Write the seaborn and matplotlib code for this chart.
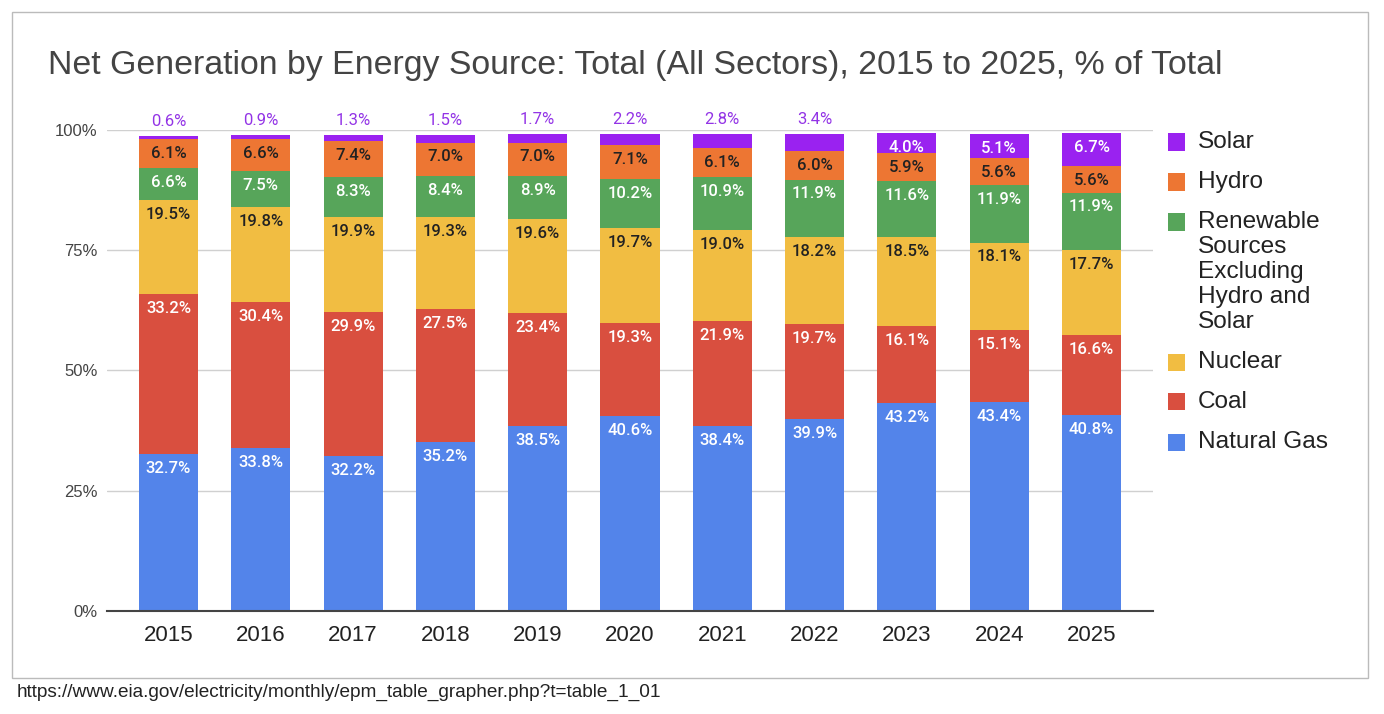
import matplotlib
matplotlib.use("Agg")
import matplotlib.pyplot as plt
from matplotlib.patches import Rectangle
import numpy as np
import pandas as pd
import seaborn as sns

years = ["2015", "2016", "2017", "2018", "2019", "2020", "2021", "2022", "2023", "2024", "2025"]
natural_gas = [32.7, 33.8, 32.2, 35.2, 38.5, 40.6, 38.4, 39.9, 43.2, 43.4, 40.8]
coal = [33.2, 30.4, 29.9, 27.5, 23.4, 19.3, 21.9, 19.7, 16.1, 15.1, 16.6]
nuclear = [19.5, 19.8, 19.9, 19.3, 19.6, 19.7, 19.0, 18.2, 18.5, 18.1, 17.7]
renewable = [6.6, 7.5, 8.3, 8.4, 8.9, 10.2, 10.9, 11.9, 11.6, 11.9, 11.9]
hydro = [6.1, 6.6, 7.4, 7.0, 7.0, 7.1, 6.1, 6.0, 5.9, 5.6, 5.6]
solar = [0.6, 0.9, 1.3, 1.5, 1.7, 2.2, 2.8, 3.4, 4.0, 5.1, 6.7]

# bottom-to-top stacking order
sources = ["Natural Gas", "Coal", "Nuclear",
           "Renewable\nSources\nExcluding\nHydro and\nSolar", "Hydro", "Solar"]
series = [natural_gas, coal, nuclear, renewable, hydro, solar]
colors = ["#5384ea", "#d94f3f", "#f1bd42", "#57a55a", "#ed7633", "#9a22f0"]
label_colors = ["white", "white", "#222222", "white", "#222222", "white"]

sns.set_style("white")
plt.rcParams["font.family"] = ["Liberation Sans", "DejaVu Sans"]

W, H = 1384, 714
fig = plt.figure(figsize=(W / 100, H / 100), dpi=100)
ax = fig.add_axes([107 / W, 1 - 611 / H, 1046 / W, 481 / H])

bottom = np.zeros(len(years))
for name, vals, col, lcol in zip(sources, series, colors, label_colors):
    vals = np.array(vals)
    df = pd.DataFrame({"Year": years, "Share": vals})
    sns.barplot(data=df, x="Year", y="Share", color=col, saturation=1,
                width=0.64, bottom=bottom, errorbar=None, linewidth=0, ax=ax)
    tops = bottom + vals
    for i, (v, t) in enumerate(zip(vals, tops)):
        if v >= 3.5:
            ax.annotate(f"{v:.1f}%", xy=(i, t), xytext=(0, -5),
                        textcoords="offset points", ha="center", va="top",
                        fontsize=12, fontweight="medium", color=lcol,
                        family=["Roboto", "DejaVu Sans"])
        else:
            ax.annotate(f"{v:.1f}%", xy=(i, t), xytext=(0, 5),
                        textcoords="offset points", ha="center", va="bottom",
                        fontsize=12, color="#9334e6", family=["Roboto", "DejaVu Sans"],
                        annotation_clip=False)
    bottom = tops

ax.set_xlim(-0.666, len(years) - 1 + 0.666)
ax.set_ylim(0, 100)
ax.set_yticks([0, 25, 50, 75, 100])
ax.set_yticklabels(["0%", "25%", "50%", "75%", "100%"])
ax.set_xlabel("")
ax.set_ylabel("")
ax.tick_params(axis="y", length=0, pad=7, labelsize=12, labelcolor="#444444")
ax.tick_params(axis="x", length=0, pad=10, labelsize=16, labelcolor="#222222")
ax.set_axisbelow(True)
ax.yaxis.grid(True, color="#d0d0d0", linewidth=1)
for side in ["left", "right", "top"]:
    ax.spines[side].set_visible(False)
ax.spines["bottom"].set_color("#444444")
ax.spines["bottom"].set_linewidth(1.5)
ax.spines["bottom"].set_zorder(5)

fig.text(48 / W, 1 - 74 / H,
         "Net Generation by Energy Source: Total (All Sectors), 2015 to 2025, % of Total",
         fontsize=24.4, color="#444444", va="baseline", ha="left")

# legend, top item first
y = 142
for name, col in reversed(list(zip(sources, colors))):
    fig.add_artist(Rectangle((1168 / W, 1 - (y + 8.5) / H), 17 / W, 17 / H,
                             transform=fig.transFigure, color=col, lw=0))
    lines = name.split("\n")
    for j, line in enumerate(lines):
        fig.text(1198 / W, 1 - (y + 25 * j) / H, line, fontsize=17.6,
                 color="#222222", va="center", ha="left")
    y += 25 * (len(lines) - 1) + 40

fig.add_artist(Rectangle((12 / W, 1 - 678 / H), 1356 / W, 666 / H,
                         transform=fig.transFigure, fill=False,
                         edgecolor="#bbbbbb", linewidth=1))
fig.text(17 / W, 1 - 692 / H,
         "https://www.eia.gov/electricity/monthly/epm_table_grapher.php?t=table_1_01",
         fontsize=13.7, color="#222222", va="center", ha="left")

fig.savefig("out.png", dpi=100)
